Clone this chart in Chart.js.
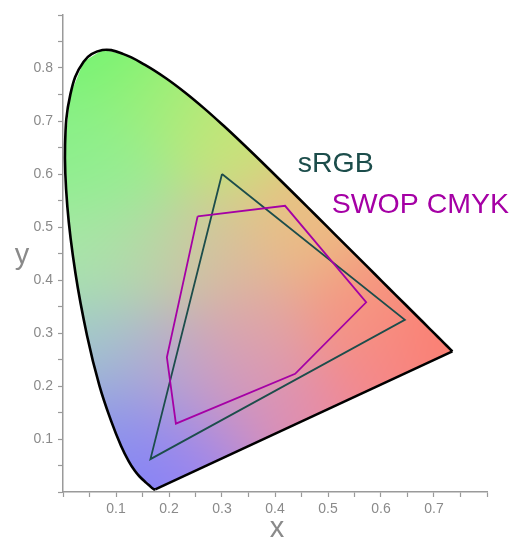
<!DOCTYPE html>
<html>
<head>
<meta charset="utf-8">
<script src="https://cdn.jsdelivr.net/npm/chart.js@4.4.1/dist/chart.umd.min.js"></script>
<style>
html,body{margin:0;padding:0;background:#fff;}
#wrap{width:517px;height:546px;position:relative;}
</style>
</head>
<body>
<div id="wrap"><canvas id="c"></canvas></div>
<script>
// CIE 1931 spectral locus (380 nm ... 700 nm)
const locusX = [0.1741,0.1714,0.1689,0.1644,0.1566,0.1440,0.1355,0.1241,0.1096,0.0913,0.0687,0.0454,0.0235,0.0082,0.0039,0.0139,0.0389,0.0743,0.1142,0.1547,0.1929,0.2296,0.2658,0.3016,0.3373,0.3731,0.4087,0.4441,0.4788,0.5125,0.5448,0.5752,0.6029,0.6270,0.6658,0.6915,0.7079,0.7190,0.7300,0.7347];
const locusY = [0.0050,0.0051,0.0069,0.0109,0.0177,0.0297,0.0399,0.0578,0.0868,0.1327,0.2007,0.2950,0.4127,0.5384,0.6548,0.7502,0.8120,0.8338,0.8262,0.8059,0.7816,0.7543,0.7243,0.6923,0.6589,0.6245,0.5896,0.5547,0.5202,0.4866,0.4544,0.4242,0.3965,0.3725,0.3340,0.3083,0.2920,0.2809,0.2700,0.2653];

// sRGB gamut triangle (closed)
const srgbX = [0.300,0.645,0.165,0.300];
const srgbY = [0.600,0.325,0.062,0.600];

// SWOP CMYK gamut polygon (closed)
const swopX = [0.254,0.419,0.572,0.438,0.213,0.196,0.254];
const swopY = [0.520,0.540,0.358,0.223,0.129,0.254,0.520];

// in-chart labels
const labelText = ['sRGB','SWOP CMYK'];
const labelX = [0.443,0.507];
const labelY = [0.604,0.527];

// ticks
const xTickLabels = ['0.1','0.2','0.3','0.4','0.5','0.6','0.7'];
const yTickLabels = ['0.1','0.2','0.3','0.4','0.5','0.6','0.7','0.8'];

const pts = (xs, ys) => xs.map((x, i) => ({x: x, y: ys[i]}));
const locusPts = pts(locusX, locusY);
const closedLocus = locusPts.concat([locusPts[0]]);
const purpleLine = [locusPts[locusPts.length - 1], locusPts[0]];

// colour field styling: anchor colours in chromaticity space
const shadeAnchors = [
  [0.08,0.83,112,245,112],[0.02,0.65,135,240,135],[0.18,0.75,165,238,120],
  [0.02,0.45,168,232,168],[0.05,0.28,160,200,205],[0.10,0.12,140,150,235],
  [0.17,0.02,125,125,252],[0.26,0.06,165,135,235],[0.45,0.13,228,140,172],
  [0.72,0.27,252,125,110],[0.56,0.34,246,150,128],[0.45,0.50,236,190,130],
  [0.30,0.66,200,228,120],[0.36,0.30,225,165,165],[0.20,0.24,185,170,208],
  [0.15,0.45,182,215,170],[0.28,0.45,215,192,158],[0.60,0.20,245,135,140],
  [0.10,0.60,150,238,150],[0.33,0.18,210,150,190]
];
function shade(x, y) {
  let r = 0, g = 0, b = 0, ws = 0;
  const s2 = 2 * 0.085 * 0.085;
  for (const a of shadeAnchors) {
    const d2 = (x - a[0]) * (x - a[0]) + (y - a[1]) * (y - a[1]);
    const w = Math.exp(-d2 / s2) + 1e-9;
    r += w * a[2]; g += w * a[3]; b += w * a[4]; ws += w;
  }
  return [r / ws, g / ws, b / ws];
}
let patCache = null, patKey = '';
function fieldPattern(ctx) {
  const chart = ctx.chart;
  const area = chart.chartArea;
  if (!area) return 'rgba(0,0,0,0)';
  const key = [area.left, area.top, area.right, area.bottom, chart.width, chart.height].join(',');
  if (patCache && key === patKey) return patCache;
  const xs = chart.scales.x, ys = chart.scales.y;
  const off = document.createElement('canvas');
  off.width = chart.width; off.height = chart.height;
  const octx = off.getContext('2d');
  const img = octx.createImageData(off.width, off.height);
  const x0 = Math.floor(area.left), x1 = Math.ceil(area.right);
  const y0 = Math.floor(area.top), y1 = Math.ceil(area.bottom);
  for (let py = y0; py < y1; py++) {
    const dy = ys.getValueForPixel(py + 0.5);
    for (let px = x0; px < x1; px++) {
      const dx = xs.getValueForPixel(px + 0.5);
      const c = shade(dx, dy);
      const i = (py * off.width + px) * 4;
      img.data[i] = c[0]; img.data[i + 1] = c[1]; img.data[i + 2] = c[2]; img.data[i + 3] = 255;
    }
  }
  octx.putImageData(img, 0, 0);
  patCache = chart.ctx.createPattern(off, 'no-repeat');
  patKey = key;
  return patCache;
}

const textPlugin = {
  id: 'texts',
  afterDatasetsDraw(chart) {
    const c = chart.ctx, xs = chart.scales.x, ys = chart.scales.y, a = chart.chartArea;
    c.save();
    c.font = '28.5px "Liberation Sans", Arial, sans-serif';
    c.textAlign = 'left';
    c.textBaseline = 'alphabetic';
    const cols = ['#1c4d4b', '#a500a5'];
    labelText.forEach((t, i) => {
      c.fillStyle = cols[i];
      c.fillText(t, xs.getPixelForValue(labelX[i]), ys.getPixelForValue(labelY[i]));
    });
    c.fillStyle = '#8a8a8a';
    c.font = '29px "Liberation Sans", Arial, sans-serif';
    c.textAlign = 'center';
    c.fillText('x', (a.left + a.right) / 2 + 2, a.bottom + 45);
    c.fillText('y', a.left - 41, (a.top + a.bottom) / 2 + 10);
    c.restore();
  }
};

function tickCb(labels) {
  return function (value) {
    const v = Math.round(value * 100);
    if (v % 10 !== 0) return '';
    const s = (v / 100).toFixed(1);
    return labels.includes(s) ? s : '';
  };
}

const axisCommon = {
  type: 'linear',
  border: {display: true, color: '#9a9a9a', width: 1.5},
  grid: {drawOnChartArea: false, drawTicks: true, tickLength: 5, tickColor: '#9a9a9a', tickWidth: 1.2},
};

new Chart(document.getElementById('c'), {
  type: 'line',
  data: {
    datasets: [
      {data: closedLocus, fill: 'shape', backgroundColor: fieldPattern, borderWidth: 0, borderColor: 'rgba(0,0,0,0)', pointRadius: 0, tension: 0, order: 5},
      {data: pts(srgbX, srgbY), fill: false, borderColor: '#1c4d4b', borderWidth: 1.8, pointRadius: 0, tension: 0, order: 3},
      {data: pts(swopX, swopY), fill: false, borderColor: '#a500a5', borderWidth: 1.8, pointRadius: 0, tension: 0, order: 2},
      {data: locusPts, fill: false, borderColor: '#000', borderWidth: 2.6, pointRadius: 0, tension: 0.4, order: 1},
      {data: purpleLine, fill: false, borderColor: '#000', borderWidth: 2.6, pointRadius: 0, tension: 0, order: 1}
    ]
  },
  options: {
    responsive: true,
    maintainAspectRatio: false,
    animation: false,
    events: [],
    layout: {padding: {top: 15, right: 30, left: 0, bottom: 0}},
    plugins: {legend: {display: false}, tooltip: {enabled: false}},
    scales: {
      x: Object.assign({}, axisCommon, {
        min: 0, max: 0.8,
        afterFit(s) { s.height = 54; },
        ticks: {stepSize: 0.05, autoSkip: false, maxRotation: 0, padding: 4, color: '#8a8a8a',
          font: {family: '"Liberation Sans", Arial, sans-serif', size: 14}, callback: tickCb(xTickLabels)}
      }),
      y: Object.assign({}, axisCommon, {
        min: 0, max: 0.9,
        afterFit(s) { s.width = 63; },
        ticks: {stepSize: 0.05, autoSkip: false, padding: 5, color: '#8a8a8a',
          font: {family: '"Liberation Sans", Arial, sans-serif', size: 14}, callback: tickCb(yTickLabels)}
      })
    }
  },
  plugins: [textPlugin]
});
</script>
</body>
</html>
